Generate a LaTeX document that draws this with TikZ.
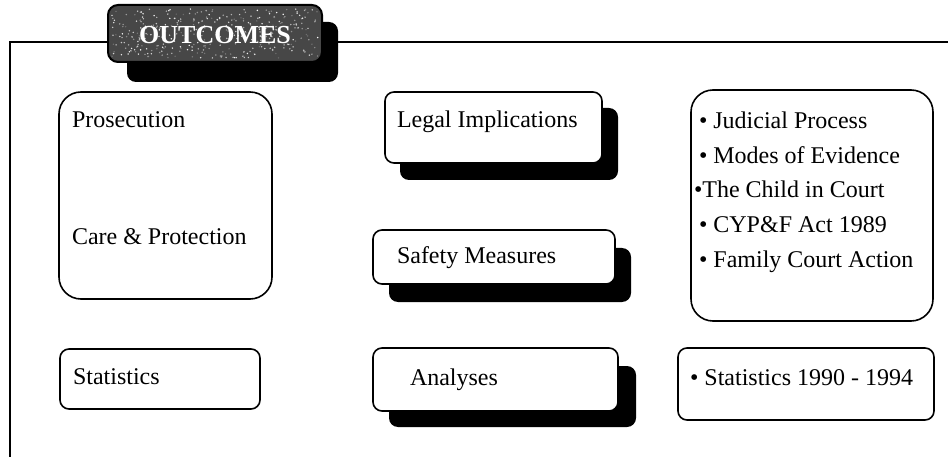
\documentclass[tikz,border=0pt]{standalone}
\usepackage{fontspec}
\setmainfont{Liberation Serif}
\begin{document}
\begin{tikzpicture}[x=1pt,y=-1pt,
  every node/.style={inner sep=0pt,outer sep=0pt},
  frameline/.style={line width=1.6pt},
  boxline/.style={draw=black,line width=1.6pt,fill=white},
  shadowbox/.style={fill=black,rounded corners=9pt},
  lbl/.style={anchor=base west,font=\fontsize{24}{28}\selectfont},
  titletext/.style={font=\fontsize{26}{30}\selectfont\bfseries}
]
\useasboundingbox (0,0) rectangle (948,457);
% outer frame (open at right and bottom)
\draw[frameline] (10,457) -- (10,42) -- (948,42);

% title tab
\fill[shadowbox] (127,22) rectangle (338,82);
\filldraw[draw=black,line width=2pt,fill=black!72,rounded corners=10pt] (108,5) rectangle (322,62);
\pgfmathsetseed{7}
\foreach \i in {1,...,380}{
  \pgfmathsetmacro{\px}{112+rnd*206}
  \pgfmathsetmacro{\py}{9+rnd*49}
  \pgfmathsetmacro{\pc}{40+rnd*60}
  \fill[white!\pc!black] (\px,\py) circle (0.8pt);
}
\node[titletext,text=white,anchor=base] (title) at (215,43.5) {OUTCOMES};

% left column
\draw[boxline,rounded corners=22pt] (59,92) rectangle (272,299);
\node[lbl] (pros) at (72,128) {Prosecution};
\node[lbl] (care) at (72,245) {Care \& Protection};

\draw[boxline,rounded corners=9pt] (60,349) rectangle (260,409);
\node[lbl] (stats) at (73,384) {Statistics};

% middle column
\fill[shadowbox] (400,108) rectangle (618,180);
\draw[boxline,rounded corners=9pt] (385,92) rectangle (602,163);
\node[lbl] (legal) at (397,128) {Legal Implications};

\fill[shadowbox] (389,248) rectangle (631,302);
\draw[boxline,rounded corners=9pt] (373,230) rectangle (615,284);
\node[lbl] (safety) at (397,263) {Safety Measures};

\fill[shadowbox] (389,366) rectangle (636,427);
\draw[boxline,rounded corners=9pt] (373,348) rectangle (618,411);
\node[lbl] (anal) at (410,385) {Analyses};

% right column
\draw[boxline,rounded corners=22pt] (691,90) rectangle (933,321);
\node[lbl] (j1) at (699,129) {• Judicial Process};
\node[lbl] (j2) at (699,164) {• Modes of Evidence};
\node[lbl] (j3) at (694,198) {•The Child in Court};
\node[lbl] (j4) at (699,233) {• CYP\&F Act 1989};
\node[lbl] (j5) at (699,268) {• Family Court Action};

\draw[boxline,rounded corners=9pt] (678,348) rectangle (934,420);
\node[lbl] (s2) at (690,385) {• Statistics 1990 - 1994};
\end{tikzpicture}
\end{document}
